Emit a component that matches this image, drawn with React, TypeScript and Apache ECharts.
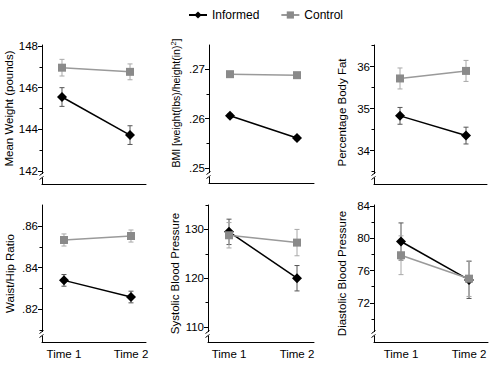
import React, { useEffect, useRef } from "react";
import * as echarts from "echarts";

const categories = ["Time 1", "Time 2"];
const seriesNames = ["Informed", "Control"];

const weightInformed = [145.55, 143.72];
const weightInformedErr = [0.45, 0.45];
const weightControl = [146.96, 146.76];
const weightControlErr = [0.4, 0.38];
const weightTicks = [142, 144, 146, 148];
const weightMinor = [143, 145, 147];

const bmiInformed = [0.2606, 0.2561];
const bmiInformedErr = [0.0004, 0.0004];
const bmiControl = [0.269, 0.2688];
const bmiControlErr = [0.0003, 0.0003];
const bmiTicks = [0.25, 0.26, 0.27];
const bmiMinor = [0.255, 0.265];

const fatInformed = [34.83, 34.36];
const fatInformedErr = [0.2, 0.2];
const fatControl = [35.72, 35.9];
const fatControlErr = [0.25, 0.25];
const fatTicks = [34, 35, 36];
const fatMinor = [33.5, 34.5, 35.5, 36.5];

const whrInformed = [0.8339, 0.8259];
const whrInformedErr = [0.0028, 0.0028];
const whrControl = [0.8533, 0.8552];
const whrControlErr = [0.0029, 0.0029];
const whrTicks = [0.82, 0.84, 0.86];
const whrMinor = [0.81, 0.83, 0.85];

const sbpInformed = [129.5, 120.0];
const sbpInformedErr = [2.6, 2.6];
const sbpControl = [128.8, 127.3];
const sbpControlErr = [2.6, 2.7];
const sbpTicks = [110, 120, 130];
const sbpMinor = [115, 125, 135];

const dbpInformed = [79.6, 74.85];
const dbpInformedErr = [2.3, 2.3];
const dbpControl = [77.9, 75.0];
const dbpControlErr = [2.4, 2.2];
const dbpTicks = [72, 76, 80, 84];
const dbpMinor = [70, 74, 78, 82];

const FONT = "'Liberation Sans', Arial, sans-serif";

const stripZero = (v: number) => {
  const s = String(v);
  return s.startsWith("0.") ? s.slice(1) : s;
};

const panels = [
  { name: "Mean Weight (pounds)", nameSize: 11.5, nameShift: 12, inf: weightInformed, infErr: weightInformedErr, ctl: weightControl, ctlErr: weightControlErr, ticks: weightTicks, minor: weightMinor, yMin: 141.37, yMax: 148.05, grid: { left: 42, top: 45, width: 104, height: 139 }, xMin: -0.294, xMax: 1.235, showX: false },
  { name: "BMI [weight(lbs)/height(in){sup|2}]", nameSize: 10.5, nameShift: 22, inf: bmiInformed, infErr: bmiInformedErr, ctl: bmiControl, ctlErr: bmiControlErr, ticks: bmiTicks, minor: bmiMinor, yMin: 0.247, yMax: 0.2749, grid: { left: 209, top: 45, width: 105, height: 138 }, xMin: -0.313, xMax: 1.254, showX: false },
  { name: "Percentage Body Fat", nameSize: 11.5, nameShift: 4, inf: fatInformed, infErr: fatInformedErr, ctl: fatControl, ctlErr: fatControlErr, ticks: fatTicks, minor: fatMinor, yMin: 33.207, yMax: 36.517, grid: { left: 374, top: 45, width: 113, height: 139 }, xMin: -0.394, xMax: 1.318, showX: false },
  { name: "Waist/Hip Ratio", nameSize: 11.5, nameShift: 0, inf: whrInformed, infErr: whrInformedErr, ctl: whrControl, ctlErr: whrControlErr, ticks: whrTicks, minor: whrMinor, yMin: 0.8043, yMax: 0.8701, grid: { left: 42, top: 205, width: 104, height: 137 }, xMin: -0.328, xMax: 1.224, showX: true },
  { name: "Systolic Blood Pressure", nameSize: 11.5, nameShift: 0, inf: sbpInformed, infErr: sbpInformedErr, ctl: sbpControl, ctlErr: sbpControlErr, ticks: sbpTicks, minor: sbpMinor, yMin: 106.94, yMax: 135, grid: { left: 208, top: 205, width: 106, height: 137 }, xMin: -0.309, xMax: 1.25, showX: true },
  { name: "Diastolic Blood Pressure", nameSize: 11.5, nameShift: 0, inf: dbpInformed, infErr: dbpInformedErr, ctl: dbpControl, ctlErr: dbpControlErr, ticks: dbpTicks, minor: dbpMinor, yMin: 67.16, yMax: 84.12, grid: { left: 374, top: 205, width: 114, height: 137 }, xMin: -0.397, xMax: 1.279, showX: true },
];

const INF_COLOR = "#000000";
const CTL_COLOR = "#8a8a8a";
const CTL_LINE = "#9a9a9a";
const INF_ERR = "#555555";
const CTL_ERR = "#a8a8a8";

function errorSeries(i: number, vals: number[], errs: number[], color: string, name: string) {
  return {
    type: "custom",
    name,
    xAxisIndex: i,
    yAxisIndex: i * 2,
    silent: true,
    encode: { x: 0, y: [1, 2] },
    data: vals.map((v, j) => [j, v - errs[j], v + errs[j]]),
    renderItem: (_params: any, api: any) => {
      const x = api.value(0);
      const top = api.coord([x, api.value(2)]);
      const bot = api.coord([x, api.value(1)]);
      const cap = 2.5;
      const style = { stroke: color, lineWidth: 1 };
      return {
        type: "group",
        children: [
          { type: "line", shape: { x1: top[0], y1: top[1], x2: bot[0], y2: bot[1] }, style },
          { type: "line", shape: { x1: top[0] - cap, y1: top[1], x2: top[0] + cap, y2: top[1] }, style },
          { type: "line", shape: { x1: bot[0] - cap, y1: bot[1], x2: bot[0] + cap, y2: bot[1] }, style },
        ],
      };
    },
  };
}

export default function App() {
  const ref = useRef<HTMLDivElement>(null);
  useEffect(() => {
    if (!ref.current) return;
    const chart = echarts.init(ref.current, null, { renderer: "svg" });

    const grids = panels.map((p) => ({ ...p.grid, containLabel: false, outerBoundsMode: "none" }));
    const xAxes = panels.map((p, i) => ({
      type: "value",
      gridIndex: i,
      min: p.xMin,
      max: p.xMax,
      splitLine: { show: false },
      axisTick: { show: false },
      axisLine: { show: true, onZero: false, lineStyle: { color: "#000", width: 1 } },
      axisLabel: {
        show: p.showX,
        customValues: [0, 1],
        formatter: (v: number) => categories[Math.round(v)],
        color: "#000",
        fontSize: 11.5,
        fontFamily: FONT,
        margin: 6,
      },
    }));
    const yAxes: any[] = [];
    panels.forEach((p, i) => {
      yAxes.push({
        type: "value",
        gridIndex: i,
        position: "left",
        min: p.yMin,
        max: p.yMax,
        splitLine: { show: false },
        axisLine: { show: true, onZero: false, lineStyle: { color: "#000", width: 1 } },
        axisTick: { show: true, customValues: p.ticks, length: 4, lineStyle: { color: "#000" } },
        axisLabel: {
          customValues: p.ticks,
          formatter: (v: number) => stripZero(v),
          color: "#000",
          fontSize: 11.5,
          fontFamily: FONT,
          margin: 4,
        },
        name: p.name,
        nameLocation: "middle",
        nameGap: 26,
        nameRotate: 90,
        nameTextStyle: {
          color: "#000",
          fontSize: p.nameSize,
          fontFamily: FONT,
          padding: [0, 0, 0, p.nameShift],
          rich: { sup: { fontSize: 7.5, verticalAlign: "top", padding: [0, 0, 6, 0], fontFamily: FONT, color: "#000" } },
        },
      });
      yAxes.push({
        type: "value",
        gridIndex: i,
        position: "left",
        min: p.yMin,
        max: p.yMax,
        splitLine: { show: false },
        axisLine: { show: false, onZero: false },
        axisTick: { show: true, customValues: p.minor, length: 2.5, lineStyle: { color: "#000" } },
        axisLabel: { show: false },
      });
    });

    const series: any[] = [];
    panels.forEach((p, i) => {
      series.push(errorSeries(i, p.inf, p.infErr, INF_ERR, "InformedErr"));
      series.push({
        type: "line",
        name: seriesNames[0],
        xAxisIndex: i,
        yAxisIndex: i * 2,
        data: p.inf.map((v, j) => [j, v]),
        symbol: "diamond",
        symbolSize: 10,
        showSymbol: true,
        itemStyle: { color: INF_COLOR },
        lineStyle: { color: INF_COLOR, width: 1.5 },
        z: 3,
      });
      series.push(errorSeries(i, p.ctl, p.ctlErr, CTL_ERR, "ControlErr"));
      series.push({
        type: "line",
        name: seriesNames[1],
        xAxisIndex: i,
        yAxisIndex: i * 2,
        data: p.ctl.map((v, j) => [j, v]),
        symbol: "rect",
        symbolSize: 8,
        showSymbol: true,
        itemStyle: { color: CTL_COLOR },
        lineStyle: { color: CTL_LINE, width: 1.5 },
        z: 4,
      });
    });

    const graphic: any[] = [];
    panels.forEach((p) => {
      const bx = p.grid.left;
      const by = p.grid.top + p.grid.height - 8;
      graphic.push({ type: "rect", z: 100, shape: { x: bx - 3, y: by - 2, width: 6, height: 4 }, style: { fill: "#fff" } });
      graphic.push({ type: "line", z: 101, shape: { x1: bx - 2.5, y1: by - 0.5, x2: bx + 1.5, y2: by - 3.5 }, style: { stroke: "#000", lineWidth: 1 } });
      graphic.push({ type: "line", z: 101, shape: { x1: bx - 2.5, y1: by + 3.5, x2: bx + 1.5, y2: by + 0.5 }, style: { stroke: "#000", lineWidth: 1 } });
    });

    chart.setOption({
      animation: false,
      backgroundColor: "#fff",
      textStyle: { fontFamily: FONT },
      legend: {
        data: seriesNames,
        left: 183,
        top: 4,
        itemWidth: 18,
        itemHeight: 9,
        itemGap: 21,
        textStyle: { fontSize: 12, color: "#000", fontFamily: FONT },
      },
      grid: grids,
      xAxis: xAxes,
      yAxis: yAxes,
      series,
      graphic,
    });
    return () => chart.dispose();
  }, []);
  return <div ref={ref} style={{ position: "absolute", left: 0, top: 0, width: 490, height: 371 }} />;
}
